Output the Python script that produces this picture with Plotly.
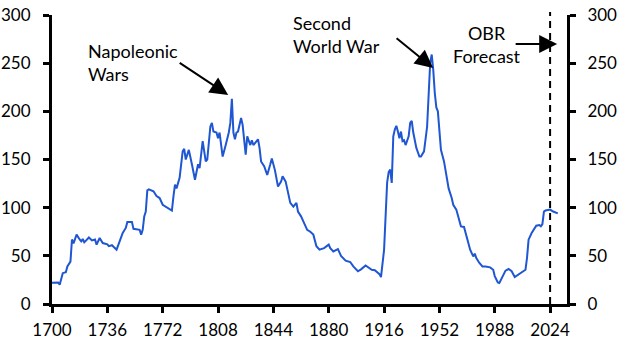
import plotly.graph_objects as go

years = [1700, 1702, 1704, 1705, 1707, 1709, 1710, 1712, 1713, 1714, 1716, 1718, 1719, 1720, 1721,
         1724, 1726, 1728, 1729, 1731, 1733, 1736, 1737, 1739, 1742, 1744, 1746, 1748, 1749, 1752,
         1753, 1757, 1758, 1759, 1760, 1761, 1762, 1763, 1766, 1768, 1770, 1772, 1775, 1778, 1779,
         1780, 1781, 1782, 1783, 1785, 1786, 1787, 1789, 1791, 1793, 1795, 1796, 1798, 1800, 1801,
         1803, 1804, 1805, 1807, 1808, 1809, 1811, 1813, 1815, 1816, 1817, 1818, 1819, 1820, 1821,
         1823, 1824, 1826, 1827, 1829, 1830, 1831, 1833, 1834, 1835, 1836, 1838, 1840, 1842, 1843,
         1845, 1846, 1847, 1849, 1850, 1852, 1855, 1857, 1859, 1860, 1862, 1864, 1866, 1868, 1870,
         1872, 1874, 1877, 1880, 1881, 1883, 1886, 1888, 1891, 1894, 1896, 1899, 1901, 1904, 1908,
         1910, 1913, 1914, 1916, 1917, 1918, 1919, 1920, 1921, 1922, 1923, 1924, 1925, 1926, 1927,
         1928, 1929, 1930, 1932, 1933, 1934, 1935, 1937, 1939, 1940, 1942, 1944, 1945, 1946, 1947,
         1948, 1949, 1950, 1951, 1952, 1953, 1955, 1957, 1958, 1960, 1961, 1963, 1965, 1966, 1968,
         1970, 1972, 1974, 1975, 1976, 1978, 1980, 1982, 1985, 1987, 1988, 1990, 1991, 1993, 1995,
         1997, 1999, 2001, 2003, 2006, 2008, 2009, 2010, 2012, 2014, 2015, 2017, 2018, 2019, 2020,
         2021, 2023, 2024, 2026, 2029]
debt = [22, 22, 22.4, 20, 32, 33, 39, 44, 67, 63, 72, 67, 65, 67.5, 64,
        69, 66, 67, 61.6, 68.5, 63.3, 62, 60, 61, 56.4, 65, 73.7, 79, 85, 85,
        78, 77, 72, 77, 91, 96, 118, 119, 117, 112, 110, 103, 99.7, 97, 111.7,
        124, 120, 126, 131, 158.5, 161, 150, 160, 145, 129, 145, 141, 169, 148, 150,
        184, 188, 179, 178, 172, 178, 153, 165, 178, 188, 213, 178, 171, 178, 179,
        193, 186, 155, 174, 165, 170, 165, 169, 171, 162, 148, 143, 134, 145, 151,
        139, 129, 122, 127, 132.5, 127, 105, 101, 105, 96, 91, 84, 77, 75, 72,
        60, 56.4, 58, 61.6, 58, 54.6, 57, 50, 45, 43.6, 39, 34, 36, 40, 35.6,
        35, 31, 28, 56, 100, 126, 137, 139.5, 125.6, 174, 181, 185, 179, 172, 179,
        169, 170, 165, 174, 188, 190, 178, 162, 153, 153, 158.5, 184, 215, 250, 259,
        243, 219, 204, 200, 178, 160, 148, 130, 120, 110, 103, 98, 87.5, 80.6, 80,
        67, 56.4, 49.4, 52.2, 47.8, 42.6, 39, 39, 38, 35.6, 29, 22.4, 21.8, 28.7, 34.6,
        36.3, 34, 28, 30.4, 34, 35.6, 48, 66.8, 73.7, 79, 81.3, 82, 80.6, 83, 96,
        97, 98, 98, 96, 94]

x_ticks = [1700, 1736, 1772, 1808, 1844, 1880, 1916, 1952, 1988, 2024]
y_ticks = [0, 50, 100, 150, 200, 250, 300]
forecast_start = 2024

FONT = "Lato"
fig = go.Figure()
fig.add_trace(go.Scatter(x=years, y=debt, mode="lines",
                         line=dict(color="#1f56d2", width=2), showlegend=False,
                         hoverinfo="skip"))
fig.add_trace(go.Scatter(x=years, y=debt, mode="lines", yaxis="y2",
                         line=dict(color="rgba(0,0,0,0)", width=0), showlegend=False,
                         hoverinfo="skip"))

axis_common = dict(showgrid=False, zeroline=False, showline=True, linecolor="black",
                   linewidth=3, ticks="outside", ticklen=6, tickwidth=3, tickcolor="black",
                   automargin=False,
                   tickfont=dict(family=FONT, size=17, color="black"))

fig.update_layout(
    width=629, height=354,
    margin=dict(l=52, r=62, t=15, b=50, autoexpand=False),
    paper_bgcolor="white", plot_bgcolor="white",
    xaxis=dict(range=[1700, 2035], tickvals=x_ticks, ticktext=[str(t) for t in x_ticks],
               ticklabelstandoff=3, **axis_common),
    yaxis=dict(range=[0, 300], tickvals=y_ticks, ticklabelstandoff=9, **axis_common),
    yaxis2=dict(range=[0, 300], tickvals=y_ticks, overlaying="y", side="right",
                ticklabelstandoff=8, **axis_common),
)

fig.add_shape(type="line", xref="x", yref="paper", x0=forecast_start, x1=forecast_start,
              y0=0, y1=1.01, line=dict(color="black", width=2, dash="7px,5px"))

arrow = dict(showarrow=True, arrowhead=2, arrowsize=1.8, arrowwidth=2, arrowcolor="black",
             xref="x", yref="y", text="")
fig.add_annotation(x=1814.6, y=217, ax=-50, ay=-33, **arrow)
fig.add_annotation(x=1947.9, y=245, ax=-38, ay=-31, **arrow)
fig.add_annotation(x=2028.6, y=270, ax=-43, ay=0, **arrow)

pw, ph = 629 - 52 - 62, 354 - 15 - 50
def px(xp):
    return (xp - 52) / pw
def py(yp):
    return 1 - (yp - 15) / ph

ann_font = dict(family=FONT, size=18, color="black")
fig.add_annotation(x=px(86), y=py(62), xref="paper", yref="paper", text="Napoleonic<br>Wars",
                   showarrow=False, font=ann_font, align="left", xanchor="left", yanchor="middle")
fig.add_annotation(x=px(291), y=py(34), xref="paper", yref="paper", text="Second<br>World War",
                   showarrow=False, font=ann_font, align="left", xanchor="left", yanchor="middle")
fig.add_annotation(x=px(487), y=py(44), xref="paper", yref="paper", text="OBR<br>Forecast",
                   showarrow=False, font=ann_font, align="center", xanchor="center", yanchor="middle")

fig.write_html("out.html")
